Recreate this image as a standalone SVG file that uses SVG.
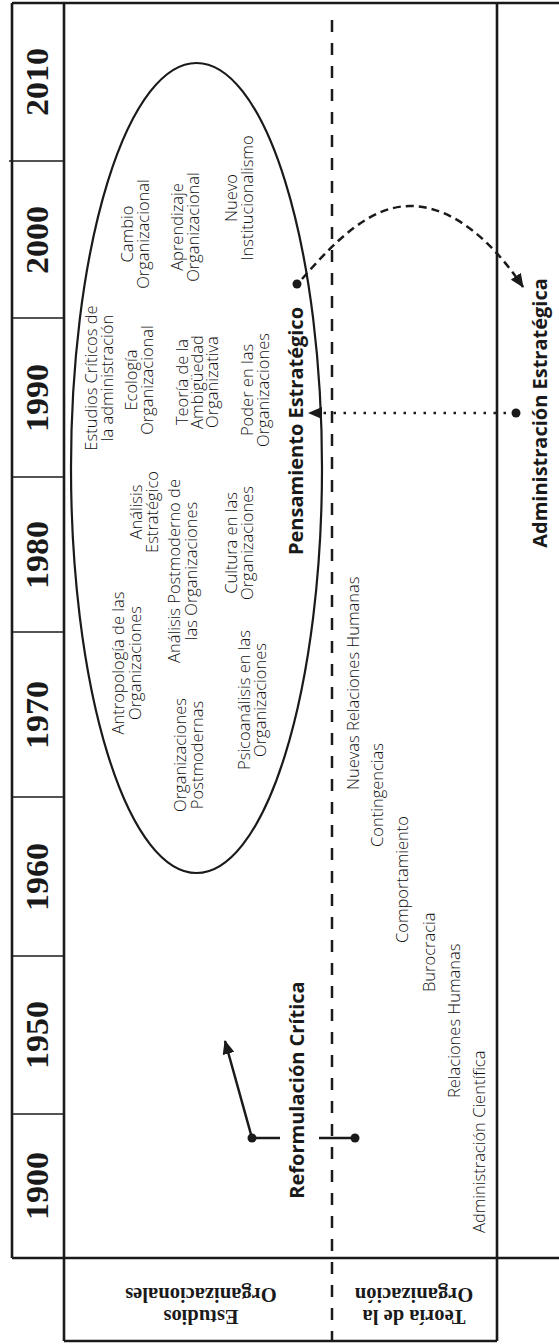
<svg xmlns="http://www.w3.org/2000/svg" width="559" height="1344" viewBox="0 0 559 1344">
  <style>
    .frame{fill:none;stroke:#1a1a1a;stroke-width:2.6}
    .div{stroke:#1a1a1a;stroke-width:1.6}
    .year{font-family:"Liberation Serif",serif;font-weight:bold;font-size:31px;fill:#1a1a1a;text-anchor:middle}
    .hd{font-family:"Liberation Serif",serif;font-weight:bold;font-size:20.5px;fill:#1a1a1a;text-anchor:middle}
    .lt{font-family:"Open Sans","Lato",sans-serif;font-weight:300;font-size:16.5px;fill:#111}
    .mid{text-anchor:middle}
    .bd{font-family:"Open Sans","Lato",sans-serif;font-weight:bold;font-size:20px;fill:#1a1a1a;text-anchor:middle}
    .ln{fill:none;stroke:#1a1a1a;stroke-width:2.5}
    .dash{stroke-dasharray:12 11}
    .curve{stroke-dasharray:8 5}
    .dots{stroke-dasharray:2.5 7.5}
    .dot{fill:#1a1a1a}
  </style>
  <defs>
    <marker id="arrow" viewBox="0 0 14 12" refX="13" refY="6" markerWidth="14" markerHeight="12" markerUnits="userSpaceOnUse" orient="auto">
      <path d="M0,0 L14,6 L0,12 Z" fill="#1a1a1a"/>
    </marker>
  </defs>

  <!-- frame: year column, main band, label strip -->
  <g id="frame">
    <line class="frame" x1="12" y1="3" x2="559" y2="3"/>
    <line class="frame" x1="12" y1="1258" x2="559" y2="1258"/>
    <line class="frame" x1="12" y1="3" x2="12" y2="1258"/>
    <line class="frame" x1="64" y1="3" x2="64" y2="1341"/>
    <line class="frame" x1="497" y1="3" x2="497" y2="1341"/>
    <line class="frame" x1="64" y1="1341" x2="497" y2="1341"/>
    <line class="div" x1="9" y1="161" x2="64" y2="161"/>
    <line class="div" x1="12" y1="318" x2="64" y2="318"/>
    <line class="div" x1="12" y1="477" x2="64" y2="477"/>
    <line class="div" x1="12" y1="632" x2="64" y2="632"/>
    <line class="div" x1="12" y1="797" x2="64" y2="797"/>
    <line class="div" x1="12" y1="956" x2="64" y2="956"/>
    <line class="div" x1="12" y1="1114" x2="64" y2="1114"/>
    <line class="ln dash" x1="332" y1="20" x2="332" y2="1341"/>
  </g>

  <!-- decade labels -->
  <g id="years">
    <text class="year" transform="translate(48,82) rotate(-90)" textLength="68" lengthAdjust="spacingAndGlyphs">2010</text>
    <text class="year" transform="translate(48,240) rotate(-90)" textLength="68" lengthAdjust="spacingAndGlyphs">2000</text>
    <text class="year" transform="translate(48,398) rotate(-90)" textLength="68" lengthAdjust="spacingAndGlyphs">1990</text>
    <text class="year" transform="translate(48,555) rotate(-90)" textLength="68" lengthAdjust="spacingAndGlyphs">1980</text>
    <text class="year" transform="translate(48,715) rotate(-90)" textLength="68" lengthAdjust="spacingAndGlyphs">1970</text>
    <text class="year" transform="translate(48,877) rotate(-90)" textLength="68" lengthAdjust="spacingAndGlyphs">1960</text>
    <text class="year" transform="translate(48,1035) rotate(-90)" textLength="68" lengthAdjust="spacingAndGlyphs">1950</text>
    <text class="year" transform="translate(48,1186) rotate(-90)" textLength="68" lengthAdjust="spacingAndGlyphs">1900</text>
  </g>

  <!-- strip labels -->
  <g id="label-estudios">
    <text class="hd" transform="translate(201,1300) rotate(180)"><tspan x="0" y="-10">Estudios</tspan><tspan x="0" y="12">Organizacionales</tspan></text>
  </g>
  <g id="label-teoria">
    <text class="hd" transform="translate(414,1300) rotate(180)"><tspan x="0" y="-10">Teoría de la</tspan><tspan x="0" y="12">Organización</tspan></text>
  </g>

  <!-- organisational studies cluster -->
  <g id="cluster">
    <ellipse cx="196.5" cy="468" rx="125.5" ry="405" fill="none" stroke="#1a1a1a" stroke-width="2.2"/>
    <text class="lt mid" transform="translate(133,234) rotate(-90)"><tspan x="0" y="0">Cambio</tspan><tspan x="0" y="16">Organizacional</tspan></text>
    <text class="lt mid" transform="translate(183,227) rotate(-90)"><tspan x="0" y="0">Aprendizaje</tspan><tspan x="0" y="16">Organizacional</tspan></text>
    <text class="lt mid" transform="translate(237,198) rotate(-90)"><tspan x="0" y="0">Nuevo</tspan><tspan x="0" y="16">Institucionalismo</tspan></text>
    <text class="lt mid" transform="translate(97,378) rotate(-90)"><tspan x="0" y="0">Estudios Críticos de</tspan><tspan x="0" y="16">la administración</tspan></text>
    <text class="lt mid" transform="translate(137,380) rotate(-90)"><tspan x="0" y="0">Ecología</tspan><tspan x="0" y="16">Organizacional</tspan></text>
    <text class="lt mid" transform="translate(142,512) rotate(-90)"><tspan x="0" y="0">Análisis</tspan><tspan x="0" y="16">Estratégico</tspan></text>
    <text class="lt mid" transform="translate(188,382) rotate(-90)"><tspan x="0" y="0">Teoría de la</tspan><tspan x="0" y="15">Ambigüedad</tspan><tspan x="0" y="30">Organizativa</tspan></text>
    <text class="lt mid" transform="translate(253,390) rotate(-90)"><tspan x="0" y="0">Poder en las</tspan><tspan x="0" y="16">Organizaciones</tspan></text>
    <text class="lt mid" transform="translate(180,571) rotate(-90)"><tspan x="0" y="0">Análisis Postmoderno de</tspan><tspan x="0" y="17">las Organizaciones</tspan></text>
    <text class="lt mid" transform="translate(237,543) rotate(-90)"><tspan x="0" y="0">Cultura en las</tspan><tspan x="0" y="16">Organizaciones</tspan></text>
    <text class="lt mid" transform="translate(124,663) rotate(-90)"><tspan x="0" y="0">Antropología de las</tspan><tspan x="0" y="17">Organizaciones</tspan></text>
    <text class="lt mid" transform="translate(186,755) rotate(-90)"><tspan x="0" y="0">Organizaciones</tspan><tspan x="0" y="17">Postmodernas</tspan></text>
    <text class="lt mid" transform="translate(250,700) rotate(-90)"><tspan x="0" y="0">Psicoanálisis en las</tspan><tspan x="0" y="16">Organizaciones</tspan></text>
  </g>

  <g id="pensamiento">
    <text class="bd" transform="translate(303,431) rotate(-90)">Pensamiento Estratégico</text>
    <circle class="dot" cx="297" cy="284" r="4.5"/>
  </g>

  <g id="reformulacion">
    <text class="bd" transform="translate(304,1090) rotate(-90)">Reformulación Crítica</text>
  </g>

  <g id="administracion">
    <text class="bd" transform="translate(547,413) rotate(-90)">Administración Estratégica</text>
    <circle class="dot" cx="516" cy="413" r="4.5"/>
  </g>

  <!-- organisation theory schools -->
  <g id="teoria">
    <text class="lt" transform="translate(359,790) rotate(-90)">Nuevas Relaciones Humanas</text>
    <text class="lt" transform="translate(383,847) rotate(-90)">Contingencias</text>
    <text class="lt" transform="translate(408,943) rotate(-90)">Comportamiento</text>
    <text class="lt" transform="translate(435,992) rotate(-90)">Burocracia</text>
    <text class="lt" transform="translate(460,1098) rotate(-90)">Relaciones Humanas</text>
    <text class="lt" transform="translate(485,1233) rotate(-90)">Administración Científica</text>
  </g>

  <!-- connectors -->
  <g id="connectors">
    <path class="ln dots" d="M516,413 H309" marker-end="url(#arrow)"/>
    <path class="ln curve" d="M302,279 C335,241 370,206 410,206 C455,206 495,245 523,287" marker-end="url(#arrow)"/>
    <path class="ln" d="M355,1138 H319"/>
    <circle class="dot" cx="355" cy="1138" r="4.5"/>
    <path class="ln" d="M280,1138 H252 L225,1041" marker-end="url(#arrow)"/>
    <circle class="dot" cx="252" cy="1138" r="4.5"/>
  </g>
</svg>
